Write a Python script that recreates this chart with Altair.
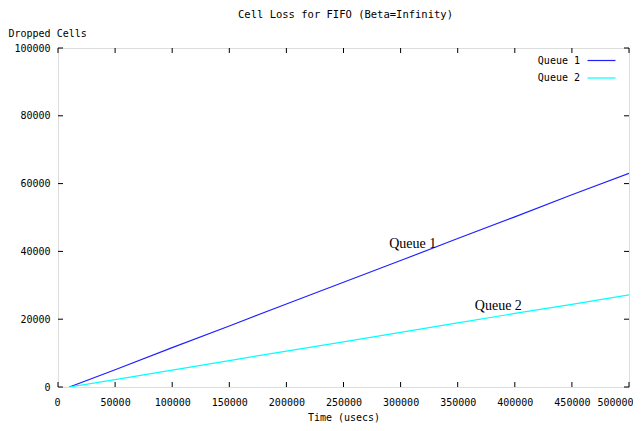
import altair as alt
import pandas as pd

# Data
time_usecs = [10000, 50000, 100000, 150000, 200000, 250000, 300000, 350000, 400000, 450000, 500000]
queue1_cells = [0, 5100, 11600, 18000, 24500, 30900, 37300, 43800, 50200, 56700, 63000]
queue2_cells = [0, 2200, 5000, 7800, 10600, 13300, 16100, 18900, 21700, 24400, 27200]
series_names = ["Queue 1", "Queue 2"]
series_colors = ["#2020ff", "#00ffff"]

x_ticks = [0, 50000, 100000, 150000, 200000, 250000, 300000, 350000, 400000, 450000, 500000]
y_ticks = [0, 20000, 40000, 60000, 80000, 100000]

label_names = ["Queue 1", "Queue 2"]
label_x = [290000, 365000]
label_y = [41000, 22700]

df = pd.DataFrame({
    "time": time_usecs * 2,
    "cells": queue1_cells + queue2_cells,
    "series": [series_names[0]] * len(time_usecs) + [series_names[1]] * len(time_usecs),
})
labels_df = pd.DataFrame({"name": label_names, "x": label_x, "y": label_y})
xt_df = pd.DataFrame({"t": x_ticks})
yt_df = pd.DataFrame({"t": y_ticks})

W, H = 571, 339
MONO = "DejaVu Sans Mono"
xs = alt.Scale(domain=[0, 500000], nice=False, zero=False)
ys = alt.Scale(domain=[0, 100000], nice=False)

lines = alt.Chart(df).mark_line(strokeWidth=1.2, clip=True).encode(
    x=alt.X("time:Q", scale=xs, axis=alt.Axis(
        values=x_ticks, format="d", title="Time (usecs)", ticks=False, domain=False,
        grid=False, labelPadding=10, titlePadding=5, labelFont=MONO, labelFontSize=10,
        labelFlush=True, labelFlushOffset=4, labelOverlap=False,
        titleFont=MONO, titleFontSize=10, titleFontWeight="normal", labelColor="black",
        titleColor="black")),
    y=alt.Y("cells:Q", scale=ys, axis=alt.Axis(
        values=y_ticks, format="d", title="Dropped Cells", ticks=False, domain=False,
        grid=False, labelPadding=8, labelFont=MONO, labelFontSize=10,
        labelFlush=False,
        titleFont=MONO, titleFontSize=10, titleFontWeight="normal", titleAngle=0,
        titleX=-50, titleY=-15, titleAlign="left", titleBaseline="middle",
        labelColor="black", titleColor="black")),
    color=alt.Color("series:N", scale=alt.Scale(domain=series_names, range=series_colors),
                    legend=alt.Legend(
                        orient="none", legendX=538, legendY=7, title=None,
                        symbolType="M-3,0H3", symbolSize=87, symbolStrokeWidth=1.2,
                        symbolFillColor="transparent",
                        labelAlign="right", labelOffset={"expr": "-27"}, labelFont=MONO,
                        labelFontSize=10, labelColor="black", padding=0,
                        rowPadding=6.5)),
)

texts = alt.Chart(labels_df).mark_text(
    font="Liberation Serif", fontSize=14, align="left", baseline="alphabetic", color="black"
).encode(
    x=alt.X("x:Q", scale=xs), y=alt.Y("y:Q", scale=ys), text="name:N"
)

tick_len = 5
x_bottom = alt.Chart(xt_df).mark_rule(color="black", strokeWidth=1).encode(
    x=alt.X("t:Q", scale=xs), y=alt.value(H), y2=alt.value(H - tick_len))
x_top = alt.Chart(xt_df).mark_rule(color="black", strokeWidth=1).encode(
    x=alt.X("t:Q", scale=xs), y=alt.value(0), y2=alt.value(tick_len))
y_left = alt.Chart(yt_df).mark_rule(color="black", strokeWidth=1).encode(
    y=alt.Y("t:Q", scale=ys), x=alt.value(0), x2=alt.value(tick_len))
y_right = alt.Chart(yt_df).mark_rule(color="black", strokeWidth=1).encode(
    y=alt.Y("t:Q", scale=ys), x=alt.value(W), x2=alt.value(W - tick_len))

chart = alt.layer(lines, texts, x_bottom, x_top, y_left, y_right).properties(
    width=W, height=H,
    autosize=alt.AutoSizeParams(type="none"),
    padding={"left": 50, "top": 40, "right": 4, "bottom": 36},
    title=alt.TitleParams("Cell Loss for FIFO (Beta=Infinity)", font=MONO, fontSize=10.5,
                          fontWeight="normal", anchor="middle", offset=8, dx=2,
                          color="black"),
).configure_view(stroke="black", strokeWidth=1.5).configure(background="white")

chart.save("out.html", embed_options={"renderer": "svg", "actions": False})
